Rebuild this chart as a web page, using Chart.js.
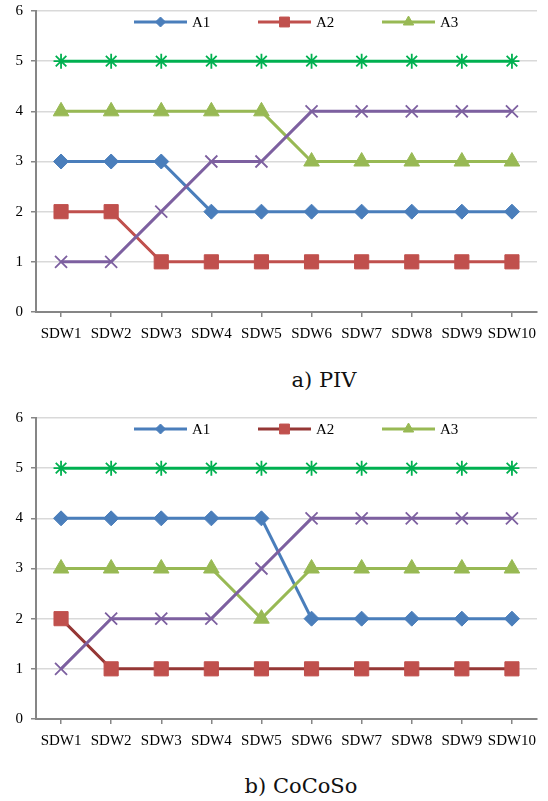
<!DOCTYPE html>
<html>
<head>
<meta charset="utf-8">
<script src="https://cdn.jsdelivr.net/npm/chart.js@4.4.0/dist/chart.umd.min.js"></script>
<style>
  body { margin: 0; background: #fff; }
  .wrap { position: absolute; left: 0; width: 548px; height: 350px; }
  .cap { position: absolute; font-family: 'DejaVu Serif', 'Liberation Serif', 'Times New Roman', serif; font-size: 21px; color: #111; white-space: nowrap; transform: translate(-50%, -50%); }
</style>
</head>
<body>
<div class="wrap" style="top:0"><canvas id="piv" width="548" height="350"></canvas></div>
<div class="cap" style="left:324px; top:380px">a) PIV</div>
<div class="wrap" style="top:407px"><canvas id="cocoso" width="548" height="350"></canvas></div>
<div class="cap" style="left:301px; top:786px">b) CoCoSo</div>

<script>
// categories and tick labels
const categories = ['SDW1', 'SDW2', 'SDW3', 'SDW4', 'SDW5', 'SDW6', 'SDW7', 'SDW8', 'SDW9', 'SDW10'];
const yTickLabels = ['0', '1', '2', '3', '4', '5', '6'];
const seriesNames = ['A1', 'A2', 'A3', 'A4', 'A5'];
const legendNames = ['A1', 'A2', 'A3'];

// a) PIV ranks
const pivA1 = [3, 3, 3, 2, 2, 2, 2, 2, 2, 2];
const pivA2 = [2, 2, 1, 1, 1, 1, 1, 1, 1, 1];
const pivA3 = [4, 4, 4, 4, 4, 3, 3, 3, 3, 3];
const pivA4 = [1, 1, 2, 3, 3, 4, 4, 4, 4, 4];
const pivA5 = [5, 5, 5, 5, 5, 5, 5, 5, 5, 5];

// b) CoCoSo ranks
const cocoA1 = [4, 4, 4, 4, 4, 2, 2, 2, 2, 2];
const cocoA2 = [2, 1, 1, 1, 1, 1, 1, 1, 1, 1];
const cocoA3 = [3, 3, 3, 3, 2, 3, 3, 3, 3, 3];
const cocoA4 = [1, 2, 2, 2, 3, 4, 4, 4, 4, 4];
const cocoA5 = [5, 5, 5, 5, 5, 5, 5, 5, 5, 5];

const FONT = "'Liberation Serif', 'Times New Roman', serif";

// marker look per series (Excel 2007 default palette)
const looks = [
  { line: '#4a7ebb', fill: '#4a7ebb', style: 'rectRot', r: 7.5, lr: 5 },
  { line: '#c0504d', fill: '#c0504d', style: 'rect', r: 10, lr: 7 },
  { line: '#98b954', fill: '#98b954', style: 'triangle', r: 9, lr: 6 },
  { line: '#7d60a0', fill: '#7d60a0', style: 'crossRot', r: 8.5, lr: 6 },
  { line: '#00b050', fill: '#00b050', style: 'star', r: 7.5, lr: 6 }
];

function makeSets(data, a2Line) {
  return data.map((vals, i) => {
    const lk = looks[i];
    const lineColor = (i === 1 && a2Line) ? a2Line : lk.line;
    const open = lk.style === 'crossRot' || lk.style === 'star';
    return {
      label: seriesNames[i],
      data: vals,
      borderColor: lineColor,
      borderWidth: 3,
      pointStyle: lk.style,
      pointRadius: lk.r,
      pointHoverRadius: lk.r,
      pointBackgroundColor: lk.fill,
      pointBorderColor: lk.fill,
      pointBorderWidth: open ? 1.8 : 1,
      tension: 0,
      order: data.length - i,
      legendMark: lk
    };
  });
}

// Excel-style legend: line with marker in the middle, drawn inside the plot
const lineLegend = {
  id: 'lineLegend',
  afterDraw(chart) {
    const ctx = chart.ctx;
    const area = chart.chartArea;
    const y = area.top + 11;
    let x = area.left + 98;
    ctx.save();
    ctx.font = '15px ' + FONT;
    ctx.textBaseline = 'middle';
    chart.data.datasets.forEach(ds => {
      if (!legendNames.includes(ds.label)) return;
      const lk = ds.legendMark;
      ctx.strokeStyle = ds.borderColor;
      ctx.lineWidth = 3;
      ctx.beginPath();
      ctx.moveTo(x, y);
      ctx.lineTo(x + 53, y);
      ctx.stroke();
      ctx.fillStyle = lk.fill;
      ctx.strokeStyle = lk.fill;
      ctx.lineWidth = 1;
      Chart.helpers.drawPoint(ctx, { pointStyle: lk.style, radius: lk.lr, rotation: 0, borderWidth: 1 }, x + 26.5, y);
      ctx.fillStyle = '#000';
      ctx.fillText(ds.label, x + 58, y + 1);
      x += 124;
    });
    ctx.restore();
  }
};

function build(id, data, a2Line) {
  new Chart(document.getElementById(id), {
    type: 'line',
    data: { labels: categories, datasets: makeSets(data, a2Line) },
    plugins: [lineLegend],
    options: {
      responsive: false,
      animation: false,
      layout: { padding: { top: 11, right: 9, left: 0, bottom: 0 } },
      plugins: { legend: { display: false }, tooltip: { enabled: false } },
      scales: {
        x: {
          offset: true,
          grid: { offset: false, drawOnChartArea: false, color: '#868686', tickLength: 5, lineWidth: 1.5 },
          border: { color: '#868686', width: 2 },
          ticks: { color: '#000', font: { family: FONT, size: 15 }, padding: 8, maxRotation: 0, autoSkip: false },
          afterFit(s) { s.height = 38; s.paddingLeft = 0; s.paddingRight = 0; }
        },
        y: {
          min: 0,
          max: 6,
          grid: { color: '#d9d9d9', lineWidth: 1.5, tickColor: '#868686', tickLength: 5 },
          border: { color: '#868686', width: 2 },
          ticks: {
            stepSize: 1,
            color: '#000',
            padding: 8,
            font: { family: FONT, size: 15 },
            callback: v => yTickLabels[v]
          },
          afterFit(s) { s.width = 36; s.paddingTop = 0; s.paddingBottom = 0; }
        }
      }
    }
  });
}

build('piv', [pivA1, pivA2, pivA3, pivA4, pivA5], null);
build('cocoso', [cocoA1, cocoA2, cocoA3, cocoA4, cocoA5], '#953735');
</script>
</body>
</html>
